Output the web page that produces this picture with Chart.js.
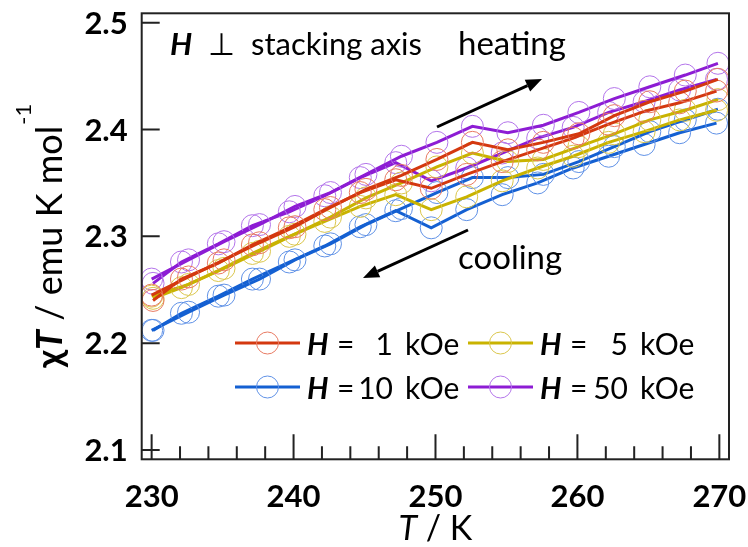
<!DOCTYPE html>
<html>
<head>
<meta charset="utf-8">
<script src="https://cdn.jsdelivr.net/npm/chart.js@4.4.0/dist/chart.umd.min.js"></script>
<style>
  body { margin: 0; background: #fff; }
  canvas { display: block; }
</style>
</head>
<body>
<canvas id="chart" width="748" height="547"></canvas>
<script>
// temperatures (K) - heating and cooling points sit a little apart
var tHeat = [230.0, 232.6, 235.1, 237.6, 240.1, 242.6, 245.1, 247.6, 250.1, 252.6, 255.1, 257.6, 260.1, 262.6, 265.1, 267.6, 269.9];
var tCool = [230.1, 232.1, 234.7, 237.1, 239.7, 242.2, 244.7, 247.2, 249.7, 252.2, 254.7, 257.2, 259.7, 262.2, 264.7, 267.2, 269.8];

// chi*T (emu K mol-1)
var heat1k  = [2.245, 2.262, 2.278, 2.294, 2.309, 2.327, 2.344, 2.357, 2.372, 2.388, 2.381, 2.388, 2.396, 2.413, 2.426, 2.436, 2.447];
var cool1k  = [2.240, 2.260, 2.275, 2.292, 2.308, 2.325, 2.341, 2.353, 2.345, 2.358, 2.370, 2.381, 2.392, 2.405, 2.417, 2.425, 2.436];
var heat5k  = [2.244, 2.255, 2.270, 2.286, 2.302, 2.318, 2.336, 2.350, 2.365, 2.378, 2.370, 2.372, 2.384, 2.396, 2.409, 2.418, 2.428];
var cool5k  = [2.242, 2.252, 2.268, 2.284, 2.300, 2.314, 2.328, 2.339, 2.325, 2.337, 2.352, 2.364, 2.375, 2.388, 2.398, 2.409, 2.418];
var heat10k = [2.212, 2.229, 2.245, 2.260, 2.278, 2.293, 2.311, 2.326, 2.341, 2.355, 2.355, 2.358, 2.370, 2.384, 2.398, 2.409, 2.419];
var cool10k = [2.212, 2.228, 2.244, 2.260, 2.276, 2.291, 2.309, 2.324, 2.308, 2.325, 2.339, 2.350, 2.364, 2.375, 2.386, 2.397, 2.406];
var heat50k = [2.260, 2.278, 2.295, 2.311, 2.328, 2.341, 2.358, 2.375, 2.388, 2.403, 2.397, 2.404, 2.416, 2.429, 2.440, 2.451, 2.462];
var cool50k = [2.256, 2.276, 2.293, 2.310, 2.323, 2.338, 2.355, 2.369, 2.352, 2.364, 2.378, 2.392, 2.402, 2.416, 2.426, 2.437, 2.447];

var fieldLabels = ['1', '5', '10', '50'];
var xTickLabels = [230, 240, 250, 260, 270];
var xMinorTicks = [232, 234, 236, 238, 242, 244, 246, 248, 252, 254, 256, 258, 262, 264, 266, 268];
var yTickLabels = [2.1, 2.2, 2.3, 2.4, 2.5];

var FONT = 'Lato, "Open Sans", sans-serif';
var lineCols = ['#d4380f', '#c9b300', '#1460d2', '#8d1cd4'];
var markCols = ['#e87a62', '#dac64c', '#5f91e6', '#b374ea'];

function series(label, t, v, i) {
  return {
    label: label,
    data: t.map(function (x, k) { return { x: x, y: v[k] }; }),
    borderColor: lineCols[i],
    borderWidth: 3,
    pointRadius: 11,
    pointHoverRadius: 11,
    pointBorderWidth: 1,
    pointBorderColor: markCols[i],
    pointBackgroundColor: 'rgba(0,0,0,0)',
    fill: false,
    tension: 0
  };
}

var datasets = [
  series('H = 1 kOe', tHeat, heat1k, 0), series('1 kOe cooling', tCool, cool1k, 0),
  series('H = 5 kOe', tHeat, heat5k, 1), series('5 kOe cooling', tCool, cool5k, 1),
  series('H = 10 kOe', tHeat, heat10k, 2), series('10 kOe cooling', tCool, cool10k, 2),
  series('H = 50 kOe', tHeat, heat50k, 3), series('50 kOe cooling', tCool, cool50k, 3)
];

// draw text made of pieces with different fonts, left to right
function runs(ctx, parts, x, y) {
  parts.forEach(function (p) {
    ctx.font = p[1];
    ctx.fillText(p[0], x, y);
    x += ctx.measureText(p[0]).width;
  });
  return x;
}
function runsWidth(ctx, parts) {
  var w = 0;
  parts.forEach(function (p) { ctx.font = p[1]; w += ctx.measureText(p[0]).width; });
  return w;
}

function arrow(ctx, x1, y1, x2, y2) {
  var a = Math.atan2(y2 - y1, x2 - x1), len = 16, hw = 6.5;
  var bx = x2 - len * Math.cos(a), by = y2 - len * Math.sin(a);
  ctx.beginPath();
  ctx.moveTo(x1, y1);
  ctx.lineTo(bx, by);
  ctx.stroke();
  ctx.beginPath();
  ctx.moveTo(x2, y2);
  ctx.lineTo(bx + hw * Math.sin(a), by - hw * Math.cos(a));
  ctx.lineTo(bx - hw * Math.sin(a), by + hw * Math.cos(a));
  ctx.closePath();
  ctx.fill();
}

var decor = {
  id: 'decor',
  afterDraw: function (chart) {
    var ctx = chart.ctx, a = chart.chartArea;
    var xs = chart.scales.x, ys = chart.scales.y;
    ctx.save();

    // frame and inward ticks
    ctx.strokeStyle = '#222';
    ctx.lineWidth = 2;
    ctx.strokeRect(a.left, a.top, a.right - a.left, a.bottom - a.top);
    ctx.beginPath();
    xTickLabels.forEach(function (v) {
      var px = xs.getPixelForValue(v);
      ctx.moveTo(px, a.bottom); ctx.lineTo(px, a.bottom - 25);
    });
    xMinorTicks.forEach(function (v) {
      var px = xs.getPixelForValue(v);
      ctx.moveTo(px, a.bottom); ctx.lineTo(px, a.bottom - 13);
    });
    yTickLabels.forEach(function (v) {
      var py = ys.getPixelForValue(v);
      ctx.moveTo(a.left, py); ctx.lineTo(a.left + 18, py);
    });
    ctx.stroke();

    // tick labels
    ctx.fillStyle = '#000';
    ctx.textBaseline = 'alphabetic';
    ctx.font = 'bold 31px ' + FONT;
    ctx.textAlign = 'center';
    xTickLabels.forEach(function (v) {
      ctx.fillText(String(v), xs.getPixelForValue(v), 507);
    });
    ctx.textAlign = 'right';
    yTickLabels.forEach(function (v) {
      ctx.fillText(v.toFixed(1), a.left - 14, ys.getPixelForValue(v) + 11);
    });
    ctx.textAlign = 'left';

    // axis titles
    var xt = [['T', 'italic 34px ' + FONT], [' / K', '34px ' + FONT]];
    runs(ctx, xt, (a.left + a.right) / 2 - runsWidth(ctx, xt) / 2, 540);

    var yt = [['\u03c7', 'bold 36px ' + FONT], ['T', 'bold italic 36px ' + FONT], [' / emu K mol', '36px ' + FONT]];
    ctx.font = '22px ' + FONT;
    var supW = ctx.measureText('-1').width;
    var yw = runsWidth(ctx, yt) + supW;
    ctx.translate(62, (a.top + a.bottom) / 2);
    ctx.rotate(-Math.PI / 2);
    var end = runs(ctx, yt, -yw / 2, 0);
    ctx.font = '22px ' + FONT;
    ctx.fillText('-1', end + 1, -31);
    ctx.setTransform(1, 0, 0, 1, 0, 0);

    // annotations
    runs(ctx, [['H', 'italic bold 31px ' + FONT], ['  \u22a5  stacking axis', '31px ' + FONT]], 170, 55);
    ctx.font = '33px ' + FONT;
    ctx.fillText('heating', 458, 55);
    ctx.fillText('cooling', 458, 269);
    ctx.strokeStyle = '#000';
    ctx.lineWidth = 3;
    arrow(ctx, 437, 127, 542, 79);
    arrow(ctx, 468, 230, 363, 278);

    // legend, one entry per field
    var cols = [[235, 307, 337, 393, 405], [468, 540, 570, 628, 640]];
    var rows = [343, 387];
    fieldLabels.forEach(function (f, i) {
      var c = cols[i % 2], yc = rows[Math.floor(i / 2)];
      var ds = chart.data.datasets[i * 2];
      ctx.strokeStyle = ds.borderColor;
      ctx.lineWidth = 3;
      ctx.beginPath();
      ctx.moveTo(c[0], yc); ctx.lineTo(c[0] + 65, yc);
      ctx.stroke();
      ctx.strokeStyle = ds.pointBorderColor;
      ctx.lineWidth = 1;
      ctx.beginPath();
      ctx.arc(c[0] + 32.5, yc, 11, 0, Math.PI * 2);
      ctx.stroke();
      ctx.fillStyle = '#000';
      ctx.textAlign = 'left';
      ctx.font = 'italic bold 30px ' + FONT;
      ctx.fillText('H', c[1], yc + 12);
      ctx.font = '30px ' + FONT;
      ctx.fillText('=', c[2], yc + 12);
      ctx.textAlign = 'right';
      ctx.fillText(f, c[3], yc + 12);
      ctx.textAlign = 'left';
      ctx.fillText('kOe', c[4], yc + 12);
    });

    ctx.restore();
  }
};

var ctx = document.getElementById('chart').getContext('2d');
new Chart(ctx, {
  type: 'line',
  data: { datasets: datasets },
  options: {
    responsive: false,
    devicePixelRatio: 1,
    animation: false,
    events: [],
    layout: { padding: { left: 0, right: 19, top: 13.3, bottom: 0 } },
    plugins: { legend: { display: false }, tooltip: { enabled: false } },
    scales: {
      x: {
        type: 'linear',
        min: 229.3,
        max: 270.68,
        afterFit: function (s) { s.height = 87.7; },
        grid: { display: false },
        border: { display: false },
        ticks: { display: false }
      },
      y: {
        type: 'linear',
        min: 2.0913,
        max: 2.5088,
        afterFit: function (s) { s.width = 141.7; },
        grid: { display: false },
        border: { display: false },
        ticks: { display: false }
      }
    }
  },
  plugins: [decor]
});
</script>
</body>
</html>
